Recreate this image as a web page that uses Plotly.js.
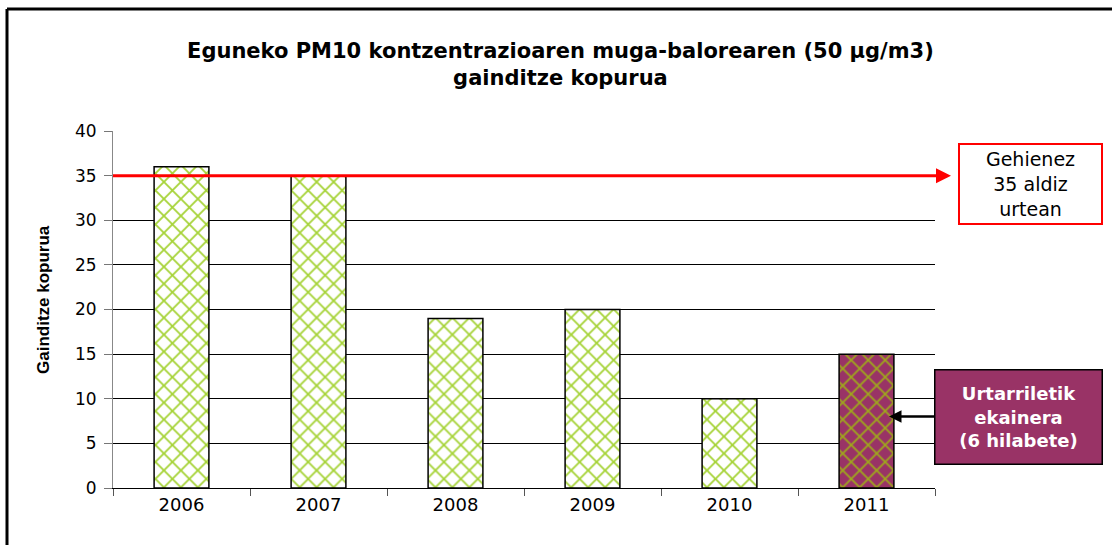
<!DOCTYPE html>
<html>
<head>
<meta charset="utf-8">
<script src="https://cdn.plot.ly/plotly-3.0.1.min.js"></script>
<style>html,body{margin:0;padding:0;background:#fff;}#chart{width:1112px;height:545px;}</style>
</head>
<body>
<div id="chart"></div>
<script>
const years = ['2006', '2007', '2008', '2009', '2010', '2011'];
const exceedances = [36, 35, 19, 20, 10, 15];
const partialYears = ['2011'];
const yTicks = [0, 5, 10, 15, 20, 25, 30, 35, 40];
const limitValue = 35;
const noteValue = 8;
const titleText = 'Eguneko PM10 kontzentrazioaren muga-balorearen (50 µg/m3)<br>gainditze kopurua';
const yTitle = 'Gainditze kopurua';
const limitNote = 'Gehienez<br>35 aldiz<br>urtean';
const partialNote = 'Urtarriletik<br>ekainera<br>(6 hilabete)';

const W = 1112, H = 545;
const L = 113, R = 935, T = 131, B = 488;
const pw = R - L, ph = B - T;
const px = v => (v - L) / pw;
const py = v => (B - v) / ph;

const fullYearY = years.map((y, i) => partialYears.includes(y) ? null : exceedances[i]);
const partialY = years.map((y, i) => partialYears.includes(y) ? exceedances[i] : null);

function barTrace(yvals, bgc, fgc) {
  return {
    type: 'bar',
    x: years,
    y: yvals,
    width: 0.4,
    marker: {
      color: bgc,
      line: {color: '#000000', width: 1.5},
      pattern: {shape: 'x', fgcolor: fgc, bgcolor: bgc, size: 12, solidity: 0.28, fillmode: 'replace'}
    },
    hoverinfo: 'x+y'
  };
}

const traces = [
  barTrace(fullYearY, '#ffffff', '#a6d338'),
  barTrace(partialY, '#993366', '#9fa61c')
];

const layout = {
  width: W, height: H,
  margin: {l: L, r: W - R, t: T, b: H - B},
  paper_bgcolor: '#ffffff',
  plot_bgcolor: '#ffffff',
  showlegend: false,
  barmode: 'overlay',
  title: {
    text: titleText,
    x: 0.504, xanchor: 'center',
    y: 1 - 58 / H, yanchor: 'middle', yref: 'container',
    font: {family: 'DejaVu Sans, sans-serif', size: 21, color: '#000', weight: 'bold'}
  },
  xaxis: {
    type: 'category',
    tickson: 'boundaries',
    ticks: 'outside', ticklen: 7, tickcolor: '#555', tickwidth: 1,
    showline: true, linecolor: '#000', linewidth: 1,
    showgrid: false,
    tickfont: {family: 'DejaVu Sans, sans-serif', size: 18, color: '#000'},
    fixedrange: true
  },
  yaxis: {
    range: [0, 40],
    tickvals: yTicks,
    ticks: 'outside', ticklen: 8, tickcolor: '#777', tickwidth: 1,
    showline: true, linecolor: '#888', linewidth: 1,
    showgrid: true, gridcolor: '#000', gridwidth: 1,
    zeroline: false,
    tickfont: {family: 'DejaVu Sans, sans-serif', size: 17, color: '#000'},
    ticklabelstandoff: 4,
    fixedrange: true
  },
  shapes: [
    {type: 'line', xref: 'paper', yref: 'y', x0: 0, x1: px(944), y0: limitValue, y1: limitValue,
     line: {color: '#ff0000', width: 3}},
    {type: 'line', xref: 'paper', yref: 'paper', x0: px(7), x1: px(W + 5), y0: py(9), y1: py(9),
     line: {color: '#000', width: 3}},
    {type: 'line', xref: 'paper', yref: 'paper', x0: px(7), x1: px(7), y0: py(9), y1: py(H + 5),
     line: {color: '#000', width: 3}}
  ],
  annotations: [
    {xref: 'paper', yref: 'y', x: px(951), y: limitValue, ax: -14, ay: 0, text: '',
     showarrow: true, arrowhead: 2, arrowsize: 1, arrowwidth: 3, arrowcolor: '#ff0000'},
    {xref: 'paper', yref: 'paper', x: px(1030), y: py(184), xanchor: 'center', yanchor: 'middle',
     text: limitNote, showarrow: false, width: 139, height: 76,
     bordercolor: '#ff0000', borderwidth: 2, bgcolor: '#ffffff',
     font: {family: 'DejaVu Sans, sans-serif', size: 19, color: '#000'}},
    {xref: 'paper', yref: 'y', x: px(889), y: noteValue, ax: 1018 - 889, ay: 0,
     text: partialNote, showarrow: true, arrowhead: 2, arrowsize: 1, arrowwidth: 2.5, arrowcolor: '#000',
     width: 164, height: 91, bgcolor: '#993366', bordercolor: '#000', borderwidth: 1.5,
     font: {family: 'DejaVu Sans, sans-serif', size: 18, color: '#ffffff', weight: 'bold'}},
    {xref: 'paper', yref: 'paper', x: px(43), y: py(300), xanchor: 'center', yanchor: 'middle',
     text: yTitle, textangle: -90, showarrow: false,
     font: {family: 'Liberation Sans, Arial, sans-serif', size: 17, color: '#000', weight: 'bold'}}
  ]
};

Plotly.newPlot('chart', traces, layout, {displayModeBar: false, staticPlot: true});
</script>
</body>
</html>
